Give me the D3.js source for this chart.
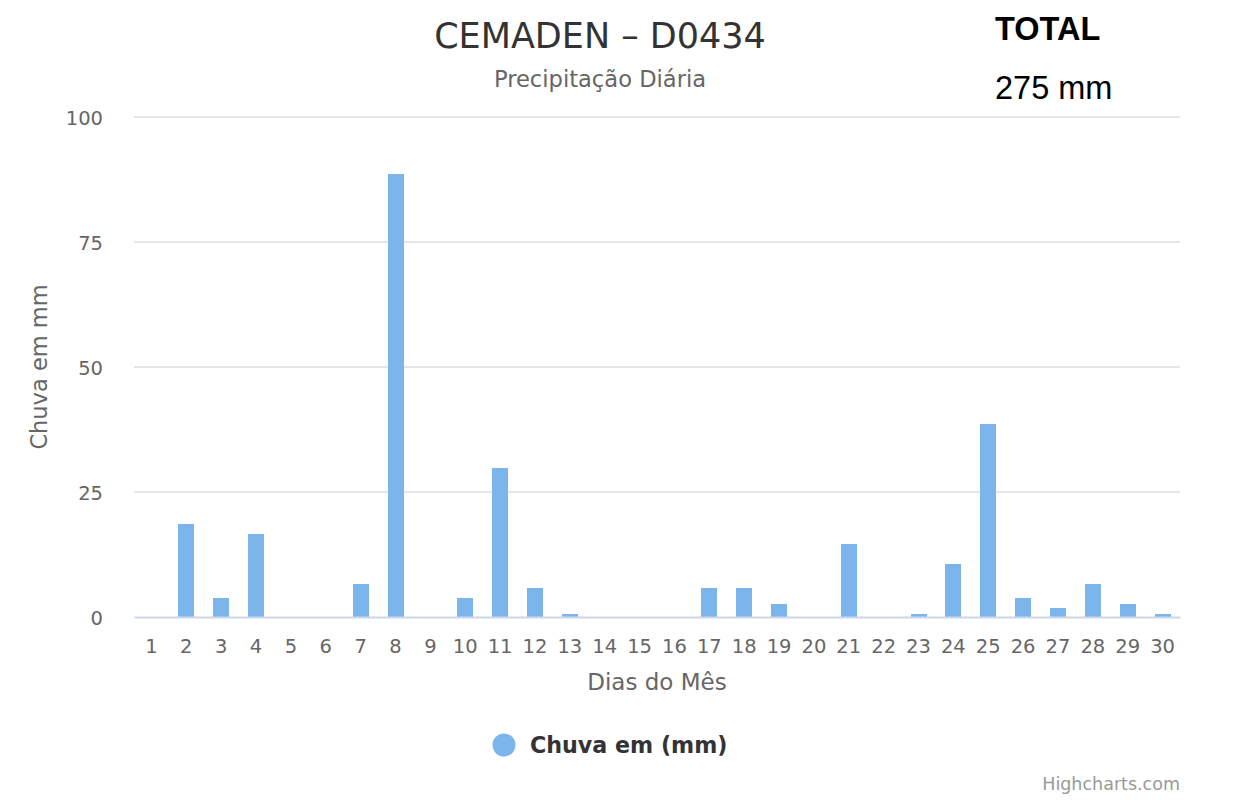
<!DOCTYPE html>
<html><head><meta charset="utf-8">
<script src="https://cdn.jsdelivr.net/npm/d3@7/dist/d3.min.js"></script>
<style>body{margin:0;background:#fff}svg{display:block;font-family:"DejaVu Sans",sans-serif}</style>
</head><body><svg id="c" width="1234" height="800"></svg>
<script>
const days = d3.range(1, 31).map(String);
const rain = [0,18.6,3.8,16.6,0,0,6.6,88.6,0,3.8,29.8,5.8,0.6,0,0,0,5.8,5.8,2.6,0,14.6,0,0.6,10.6,38.6,3.8,1.8,6.6,2.6,0.6];
const yTicks = [0,25,50,75,100];
const titleText = "CEMADEN – D0434";
const subtitleText = "Precipitação Diária";
const totalLabel = "TOTAL";
const totalValue = "275 mm";
const seriesName = "Chuva em (mm)";
const yTitle = "Chuva em mm";
const xTitle = "Dias do Mês";

const svg = d3.select("#c");
const L=134,R=1180,T=117,B=617;
const x = d3.scaleBand().domain(days).range([L,R]).padding(0);
const y = d3.scaleLinear().domain([0,100]).range([B,T]);

// gridlines
svg.append("g").selectAll("line").data(yTicks.filter(d=>d>0)).join("line")
  .attr("x1",L).attr("x2",R).attr("y1",d=>y(d)).attr("y2",d=>y(d))
  .attr("stroke","#e6e6e6").attr("stroke-width",1.8);

// y labels
const ya = svg.append("g").attr("transform",`translate(${L},0)`)
  .call(d3.axisLeft(y).tickValues(yTicks).tickSize(0).tickPadding(31));
ya.select(".domain").remove();
ya.selectAll("text").attr("font-family","DejaVu Sans").attr("font-size",19.5).attr("fill","#666").attr("dy","0.36em");

// bars
const bw = 16;
svg.append("g").selectAll("rect").data(rain.map((v,i)=>({d:days[i],v}))).join("rect")
  .attr("x",d=>Math.round(x(d.d)+x.bandwidth()/2-bw/2))
  .attr("width",bw)
  .attr("y",d=>y(d.v)).attr("height",d=>B-y(d.v))
  .attr("fill","#7cb5ec");

// x axis
const xa = svg.append("g").attr("transform",`translate(0,${B})`)
  .call(d3.axisBottom(x).tickSize(0).tickPadding(22));
xa.select(".domain").attr("stroke","#ccd6eb").attr("stroke-width",1.8);
xa.selectAll("text").attr("font-family","DejaVu Sans").attr("font-size",19.5).attr("fill","#666");

// titles
svg.append("text").attr("x",600).attr("y",48).attr("text-anchor","middle")
  .attr("font-size",35).attr("fill","#333").text(titleText);
svg.append("text").attr("x",600).attr("y",87).attr("text-anchor","middle")
  .attr("font-size",22.6).attr("fill","#666").text(subtitleText);

svg.append("text").attr("x",(L+R)/2).attr("y",690).attr("text-anchor","middle")
  .attr("font-size",23).attr("fill","#666").text(xTitle);
svg.append("text").attr("transform",`translate(47,${(T+B)/2}) rotate(-90)`).attr("text-anchor","middle")
  .attr("font-size",22.5).attr("fill","#666").text(yTitle);

// total
svg.append("text").attr("x",995).attr("y",40).attr("font-family","Liberation Sans, Arial").attr("font-weight","bold")
  .attr("font-size",32.5).attr("fill","#000").text(totalLabel);
svg.append("text").attr("x",995).attr("y",99).attr("font-family","Liberation Sans, Arial")
  .attr("font-size",32.5).attr("fill","#000").text(totalValue);

// legend
svg.append("circle").attr("cx",504).attr("cy",745).attr("r",11.5).attr("fill","#7cb5ec");
svg.append("text").attr("x",530).attr("y",753).attr("font-size",22.2).attr("font-weight","bold").attr("fill","#333").text(seriesName);

// credits
svg.append("text").attr("x",1180).attr("y",790).attr("text-anchor","end").attr("font-size",17.5).attr("fill","#999").text("Highcharts.com");
</script></body></html>
